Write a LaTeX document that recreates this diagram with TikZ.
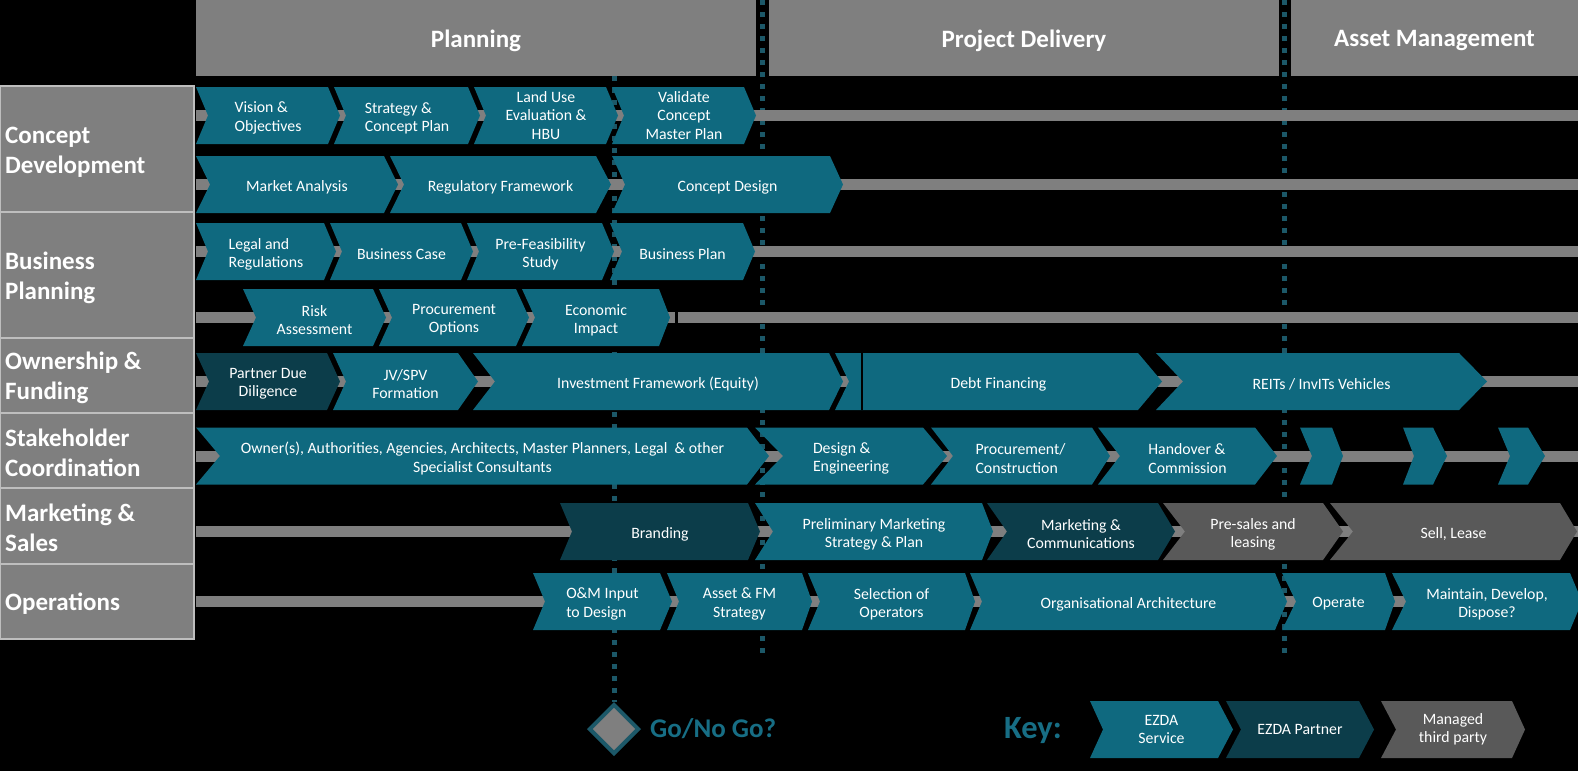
\documentclass[tikz,border=0pt]{standalone}
\usepackage{fontspec}
\setmainfont{Carlito}
\usetikzlibrary{shapes.geometric}
\definecolor{cteal}{RGB}{15,105,127}
\definecolor{cdark}{RGB}{12,61,74}
\definecolor{cmgd}{RGB}{89,89,89}
\definecolor{chead}{RGB}{127,127,127}
\definecolor{cbar}{RGB}{127,127,127}
\definecolor{clabline}{RGB}{190,190,190}
\definecolor{cdot}{RGB}{28,88,104}
\definecolor{ckey}{RGB}{23,110,133}
\def\tshift{2.5}
% #1 name, #2 y centre, #3 left x, #4 notch depth, #5 tip x, #6 tip depth, #7 fill style, #8 align, #9 text
\newcommand\chev[9]{%
  \fill[#7] (#3,#2-28.5) -- ({#5-#6},#2-28.5) -- (#5,#2) -- ({#5-#6},#2+28.5) -- (#3,#2+28.5) -- ({#3+#4},#2) -- cycle;
  \node[ctext,align=#8] (#1) at ({(#3+#5)/2},{#2+\tshift}) {#9};
}
\begin{document}
\begin{tikzpicture}[x=1pt,y=-1pt,
  ctext/.style={text=white,font=\fontsize{15.8}{18.2}\selectfont,inner sep=0pt},
  labbox/.style={fill=chead,draw=clabline,line width=1.5pt,minimum width=194pt,inner sep=0pt},
  labtext/.style={anchor=west,text=white,font=\fontsize{25}{30}\selectfont\bfseries,align=left,inner sep=0pt},
  head/.style={fill=chead,inner sep=0pt,minimum height=76pt},
  headtext/.style={text=white,font=\fontsize{25}{30}\selectfont\bfseries,inner sep=0pt},
  bar/.style={draw=cbar,line width=11pt},
  dotl/.style={draw=cdot,line width=5pt,dash pattern=on 5pt off 7pt},
  svc/.style={fill=cteal},
  ptn/.style={fill=cdark},
  mgd/.style={fill=cmgd}]
\useasboundingbox (0,0) rectangle (1578,771);
\fill[black] (0,0) rectangle (1578,771);

% phase headers
\node[head,minimum width=560pt] (hplan) at (476,38) {};
\node[head,minimum width=510pt] (hdel) at (1024,38) {};
\node[head,minimum width=287pt] (hasset) at (1434.5,38) {};
\node[headtext] (tplan) at (476,41) {Planning};
\node[headtext] (tdel) at (1024,41) {Project Delivery};
\node[headtext] (tasset) at (1434.5,41) {Asset Management};

% row labels
\node[labbox,minimum height=126pt] (lcd) at (97,149) {};
\node[labbox,minimum height=126pt] (lbp) at (97,275) {};
\node[labbox,minimum height=75pt] (lof) at (97,375.5) {};
\node[labbox,minimum height=75pt] (lsc) at (97,450.5) {};
\node[labbox,minimum height=76pt] (lms) at (97,526) {};
\node[labbox,minimum height=75pt] (lop) at (97,601.5) {};
\node[labtext] (tcd) at (5,152) {Concept\\Development};
\node[labtext] (tbp) at (5,278) {Business\\Planning};
\node[labtext] (tof) at (5,377.5) {Ownership \&\\Funding};
\node[labtext] (tsc) at (5,452.5) {Stakeholder\\Coordination};
\node[labtext] (tms) at (5,528) {Marketing \&\\Sales};
\node[labtext] (top) at (5,604) {Operations};

% dotted milestone lines
\node[diamond,fill=chead,draw=cdot,line width=4pt,minimum width=50pt,minimum height=50pt,inner sep=0pt] (gng) at (614,729) {};
\coordinate (d1t) at (614,76);
\draw[dotl] (d1t) -- (gng.north);
\coordinate (d2t) at (762,0);
\coordinate (d2b) at (762,656);
\draw[dotl] (d2t) -- (d2b);
\coordinate (d3t) at (1284,0);
\coordinate (d3b) at (1284,656);
\draw[dotl] (d3t) -- (d3b);

% timeline bars
\foreach \n/\y in {a/115,b/184.5,c/251.5,d/317.5,e/381.5,f/456,g/531.5,h/601.5}{
  \coordinate (bs\n) at (196,\y);
  \coordinate (be\n) at (1578,\y);
  \draw[bar] (bs\n) -- (be\n);
}

% Concept development
\chev{vision}{115.5}{196}{12}{340}{12}{svc}{left}{Vision \&\\Objectives}
\chev{strategy}{115.5}{334}{12}{480}{12}{svc}{left}{Strategy \&\\Concept Plan}
\def\tshift{0}
\chev{landuse}{115.5}{474}{12}{618}{12}{svc}{center}{Land Use\\Evaluation \&\\HBU}
\chev{validate}{115.5}{612}{12}{756}{12}{svc}{center}{Validate\\Concept\\Master Plan}
\def\tshift{2.5}
\chev{market}{184.5}{196}{14}{398}{14}{svc}{center}{Market Analysis}
\chev{regulatory}{184.5}{390}{14}{611}{15}{svc}{center}{Regulatory Framework}
\chev{cdesign}{184.5}{612}{13}{843}{13}{svc}{center}{Concept Design}

% Business planning
\chev{legal}{251.5}{196}{12}{336}{12}{svc}{left}{Legal and\\Regulations}
\chev{bcase}{251.5}{330}{12}{473}{12}{svc}{center}{Business Case}
\chev{prefeas}{251.5}{467}{12}{614}{12}{svc}{center}{Pre-Feasibility\\Study}
\chev{bplan}{251.5}{610}{12}{755}{12}{svc}{center}{Business Plan}
\chev{risk}{317.5}{243}{13}{386}{13}{svc}{center}{Risk\\Assessment}
\chev{procopt}{317.5}{379}{13}{529}{13}{svc}{center}{Procurement\\Options}
\chev{econ}{317.5}{522}{13}{670}{11}{svc}{center}{Economic\\Impact}
\draw[black,line width=3pt] (676,311) -- (676,324);

% Ownership & funding
\chev{partner}{381.5}{196}{13}{340}{13}{ptn}{center}{Partner Due\\Diligence}
\chev{jvspv}{381.5}{333}{13}{478}{20}{svc}{center}{JV/SPV\\Formation}
\chev{invest}{381.5}{473}{22}{843}{14}{svc}{center}{Investment Framework (Equity)}
\chev{debt}{381.5}{835}{14}{1162}{24}{svc}{center}{Debt Financing}
\draw[black,line width=2.5pt] (862,353) -- (862,410);
\chev{reits}{381.5}{1156}{27}{1487}{28}{svc}{center}{REITs / InvITs Vehicles}

% Stakeholder coordination
\chev{owners}{456}{196}{24}{769}{22}{svc}{center}{Owner(s), Authorities, Agencies, Architects, Master Planners, Legal~\ \& other\\Specialist Consultants}
\chev{design}{456}{755}{28}{947}{24}{svc}{left}{Design \&\\Engineering}
\chev{proccon}{456}{931}{22}{1110}{18}{svc}{left}{Procurement/\\Construction}
\chev{handover}{456}{1098}{22}{1277}{22}{svc}{left}{Handover \&\\Commission}
\chev{sa}{456}{1300}{12}{1343}{11}{svc}{center}{}
\chev{sb}{456}{1403}{11}{1447}{14}{svc}{center}{}
\chev{sc}{456}{1498}{12}{1545}{17}{svc}{center}{}

% Marketing & sales
\chev{branding}{531.5}{560}{12}{760}{12}{ptn}{center}{Branding}
\chev{prelim}{531.5}{755}{18}{993}{11}{svc}{center}{Preliminary Marketing\\Strategy \& Plan}
\chev{marcom}{531.5}{987}{20}{1175}{17}{ptn}{center}{Marketing \&\\Communications}
\chev{presales}{531.5}{1163}{22}{1343}{20}{mgd}{center}{Pre-sales and\\leasing}
\chev{sell}{531.5}{1330}{23}{1577}{17}{mgd}{center}{Sell, Lease}

% Operations
\chev{om}{601.5}{533}{12}{672}{12}{svc}{left}{O\&M Input\\to Design}
\chev{assetfm}{601.5}{667}{12}{812}{10}{svc}{center}{Asset \& FM\\Strategy}
\chev{selop}{601.5}{808}{12}{975}{10}{svc}{center}{Selection of\\Operators}
\chev{orgarch}{601.5}{970}{12}{1287}{12}{svc}{center}{Organisational Architecture}
\chev{operate}{601.5}{1282}{14}{1395}{10}{svc}{center}{Operate}
\chev{maintain}{601.5}{1392}{14}{1582}{12}{svc}{center}{Maintain, Develop,\\Dispose?}

% Go / No Go and key
\node[anchor=west,inner sep=0pt,text=ckey,font=\fontsize{27}{30}\selectfont\bfseries] (gngtxt) at (650,729) {Go/No Go?};
\node[anchor=west,inner sep=0pt,text=ckey,font=\fontsize{32.5}{36}\selectfont\bfseries] (keytxt) at (1004,731) {Key:};
\def\tshift{0}
\chev{kservice}{729.5}{1090}{13}{1233}{15}{svc}{center}{EZDA\\Service}
\chev{kpartner}{729.5}{1226}{15}{1374}{15}{ptn}{center}{EZDA Partner}
\chev{kmanaged}{729.5}{1381}{15}{1525}{13}{mgd}{center}{Managed\\third party}
\end{tikzpicture}
\end{document}
